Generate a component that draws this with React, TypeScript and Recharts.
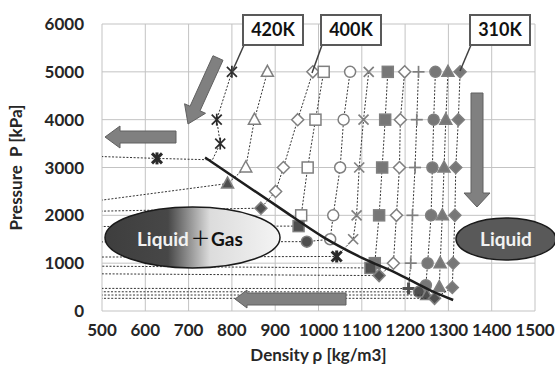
import { ScatterChart, Scatter, XAxis, YAxis, CartesianGrid } from "recharts";

// density [kg/m3] and pressure [kPa] per isotherm; last point is the gas side (off chart to the left)
const rho420 = [800, 765, 773, 755, 627, 100];
const p420 = [5000, 4000, 3500, 3160, 3190, 3350];
const rho410 = [882, 852, 832, 790, 100];
const p410 = [5000, 4000, 3000, 2665, 1840];
const rho400 = [987, 952, 919, 901, 867, 100];
const p400 = [5000, 4000, 3000, 2500, 2150, 2020];
const rho390 = [1012, 993, 975, 960, 954, 100];
const p390 = [5000, 4000, 3000, 2000, 1775, 1760];
const rho380 = [1073, 1058, 1050, 1034, 1027, 973, 100];
const p380 = [5000, 4000, 3000, 2000, 1500, 1450, 1440];
const rho370 = [1116, 1104, 1094, 1088, 1080, 1042, 100];
const p370 = [5000, 4000, 3000, 2000, 1500, 1140, 1120];
const rho360 = [1160, 1154, 1147, 1140, 1130, 1120, 100];
const p360 = [5000, 4000, 3000, 2000, 1000, 900, 960];
const rho350 = [1199, 1189, 1187, 1180, 1173, 1140, 100];
const p350 = [5000, 4000, 3000, 2000, 1000, 740, 800];
const rho340 = [1231, 1227, 1223, 1217, 1213, 1208, 100];
const p340 = [5000, 4000, 3000, 2000, 1000, 470, 474];
const rho330 = [1270, 1266, 1263, 1260, 1252, 1248, 1232, 100];
const p330 = [5000, 4000, 3000, 2000, 1000, 540, 400, 403];
const rho320 = [1299, 1294, 1290, 1286, 1281, 1279, 1250, 100];
const p320 = [5000, 4000, 3000, 2000, 1000, 500, 334, 334];
const rho310 = [1327, 1323, 1317, 1315, 1311, 1309, 1268, 100];
const p310 = [5000, 4000, 3000, 2000, 1000, 490, 265, 265];

// saturation curve
const satRho = [738, 911, 1011, 1103, 1181, 1257, 1311];
const satP = [3210, 2150, 1545, 1100, 787, 438, 230];

const xTicks = [500, 600, 700, 800, 900, 1000, 1100, 1200, 1300, 1400, 1500];
const yTicks = [0, 1000, 2000, 3000, 4000, 5000, 6000];

const series = [
  { name: "420K", rho: rho420, p: p420, mark: "star", sat: 4, skip: 3 },
  { name: "410K", rho: rho410, p: p410, mark: "tri", sat: 3 },
  { name: "400K", rho: rho400, p: p400, mark: "dia", sat: 4 },
  { name: "390K", rho: rho390, p: p390, mark: "sq", sat: 4 },
  { name: "380K", rho: rho380, p: p380, mark: "circ", sat: 5 },
  { name: "370K", rho: rho370, p: p370, mark: "x", sat: 5 },
  { name: "360K", rho: rho360, p: p360, mark: "fsq", sat: 5 },
  { name: "350K", rho: rho350, p: p350, mark: "dia", sat: 5 },
  { name: "340K", rho: rho340, p: p340, mark: "plus", sat: 5 },
  { name: "330K", rho: rho330, p: p330, mark: "fcirc", sat: 6 },
  { name: "320K", rho: rho320, p: p320, mark: "ftri", sat: 6 },
  { name: "310K", rho: rho310, p: p310, mark: "fdia", sat: 6 },
];

const FONT = "Lato, 'Open Sans', sans-serif";
const GRAY = "#7f7f7f";
const DARK = "#4f4f4f";

// plot box (matches chart margins below)
const L = 102, R = 535, T = 24, B = 311;

const drawMark = (kind: string, sat: boolean, cx: number, cy: number) => {
  const fillOpen = sat ? DARK : "#fff";
  const fillSolid = sat ? DARK : "#777";
  switch (kind) {
    case "star":
    case "x": {
      const c = kind === "star" || sat ? "#2b2b2b" : GRAY;
      const w = sat ? 3 : 1.7;
      return (
        <g stroke={c} strokeWidth={w}>
          <line x1={cx - 5} y1={cy - 5} x2={cx + 5} y2={cy + 5} />
          <line x1={cx - 5} y1={cy + 5} x2={cx + 5} y2={cy - 5} />
          {(kind === "star" || sat) && <line x1={cx} y1={cy - 6} x2={cx} y2={cy + 6} />}
        </g>
      );
    }
    case "plus":
      return (
        <g stroke={sat ? DARK : GRAY} strokeWidth={sat ? 3 : 1.7}>
          <line x1={cx - 6} y1={cy} x2={cx + 6} y2={cy} />
          <line x1={cx} y1={cy - 6} x2={cx} y2={cy + 6} />
        </g>
      );
    case "tri":
    case "ftri":
      return (
        <polygon
          points={`${cx},${cy - 6.5} ${cx + 6},${cy + 4.5} ${cx - 6},${cy + 4.5}`}
          fill={kind === "tri" ? fillOpen : fillSolid}
          stroke={GRAY}
          strokeWidth={1.5}
        />
      );
    case "dia":
    case "fdia":
      return (
        <polygon
          points={`${cx},${cy - 6} ${cx + 6},${cy} ${cx},${cy + 6} ${cx - 6},${cy}`}
          fill={kind === "dia" ? fillOpen : fillSolid}
          stroke={GRAY}
          strokeWidth={1.5}
        />
      );
    case "sq":
    case "fsq":
      return (
        <rect x={cx - 5.5} y={cy - 5.5} width={11} height={11}
          fill={kind === "sq" ? fillOpen : fillSolid} stroke={GRAY} strokeWidth={1.5} />
      );
    default:
      return (
        <circle cx={cx} cy={cy} r={5.5}
          fill={kind === "circ" ? fillOpen : fillSolid} stroke={GRAY} strokeWidth={1.5} />
      );
  }
};

const arrow = (x1: number, y1: number, x2: number, y2: number, sw: number, hw: number, hl: number) => {
  const len = Math.hypot(x2 - x1, y2 - y1);
  const ux = (x2 - x1) / len, uy = (y2 - y1) / len;
  const nx = -uy, ny = ux;
  const bx = x2 - ux * hl, by = y2 - uy * hl;
  const pts = [
    [x1 + (nx * sw) / 2, y1 + (ny * sw) / 2],
    [bx + (nx * sw) / 2, by + (ny * sw) / 2],
    [bx + (nx * hw) / 2, by + (ny * hw) / 2],
    [x2, y2],
    [bx - (nx * hw) / 2, by - (ny * hw) / 2],
    [bx - (nx * sw) / 2, by - (ny * sw) / 2],
    [x1 - (nx * sw) / 2, y1 - (ny * sw) / 2],
  ];
  return <polygon points={pts.map((q) => q.join(",")).join(" ")} fill="#808080" stroke="#606060" strokeWidth={1} />;
};

const Callout = ({ x, label, tx, ty }: { x: number; label: string; tx: number; ty: number }) => (
  <g>
    <line x1={x + 1} y1={45} x2={tx} y2={ty} stroke="#404040" strokeWidth={1.5} />
    <rect x={x} y={15} width={60} height={30} fill="#fff" stroke="#595959" strokeWidth={2} />
    <text x={x + 30} y={36} textAnchor="middle" fontSize={18} fontWeight={700} fill="#111" fontFamily={FONT}>
      {label}
    </text>
  </g>
);

const Overlay = () => (
  <svg width={555} height={370} style={{ position: "absolute", left: 0, top: 0, pointerEvents: "none" }}>
    <defs>
      <linearGradient id="lg" x1="0" y1="0" x2="1" y2="0">
        <stop offset="0" stopColor="#3e3e3e" />
        <stop offset="0.36" stopColor="#474747" />
        <stop offset="0.6" stopColor="#dcdcdc" />
        <stop offset="1" stopColor="#f4f4f4" />
      </linearGradient>
    </defs>
    {arrow(218, 58, 188, 124, 11, 23, 17)}
    {arrow(176, 137, 105, 137, 12, 22, 15)}
    {arrow(477, 93, 477, 207, 12, 26, 14)}
    {arrow(346, 299, 235, 299, 12, 18, 12)}

    <ellipse cx={192.5} cy={237.5} rx={87.5} ry={30.5} fill="url(#lg)" stroke="#1a1a1a" strokeWidth={1.5} />
    <text x={137} y={246} fontSize={19} fontWeight={700} fill="#f2f2f2" fontFamily={FONT}>Liquid</text>
    <text x={200.5} y={246} textAnchor="middle" fontSize={20} fill="#111" fontFamily="'Noto Sans CJK JP', sans-serif">＋</text>
    <text x={211} y={246} fontSize={19} fontWeight={700} fill="#111" fontFamily={FONT}>Gas</text>

    <ellipse cx={506} cy={239} rx={50} ry={21} fill="#595959" stroke="#1a1a1a" strokeWidth={1.5} />
    <text x={506} y={246} textAnchor="middle" fontSize={19} fontWeight={700} fill="#f2f2f2" fontFamily={FONT}>Liquid</text>

    <Callout x={243} label="420K" tx={232} ty={72} />
    <Callout x={321} label="400K" tx={312} ty={73} />
    <Callout x={470} label="310K" tx={460} ty={71} />

    <text x={(L + R) / 2} y={361} textAnchor="middle" fontSize={17} fontWeight={700} fill="#262626" fontFamily={FONT}>
      Density ρ [kg/m3]
    </text>
    <text
      transform={`translate(22, ${(T + B) / 2}) rotate(-90)`}
      textAnchor="middle"
      fontSize={17}
      fontWeight={700}
      fill="#262626"
      fontFamily={FONT}
      style={{ whiteSpace: "pre" }}
    >
      {"Pressure  P [kPa]"}
    </text>
  </svg>
);

export default function App() {
  const satData = satRho.map((x, i) => ({ x, y: satP[i] }));
  return (
    <div style={{ position: "absolute", left: 0, top: 0, width: 555, height: 370, background: "#fff" }}>
      <ScatterChart width={555} height={370} margin={{ top: T, right: 555 - R, bottom: 19, left: 22 }}>
        <CartesianGrid stroke="#c3c3c3" strokeWidth={1} />
        <XAxis
          type="number"
          dataKey="x"
          domain={[500, 1500]}
          ticks={xTicks}
          allowDataOverflow
          height={40}
          axisLine={false}
          tickLine={false}
          tickSize={0}
          tickMargin={13}
          tick={{ fill: "#262626", fontSize: 17, fontWeight: 700, fontFamily: FONT }}
        />
        <YAxis
          type="number"
          dataKey="y"
          domain={[0, 6000]}
          ticks={yTicks}
          width={80}
          axisLine={false}
          tickLine={false}
          tickSize={0}
          tickMargin={18}
          tick={{ fill: "#262626", fontSize: 17, fontWeight: 700, fontFamily: FONT }}
        />
        {series.map((s) => (
          <Scatter
            key={s.name}
            name={s.name}
            data={s.rho.map((x, i) => ({ x, y: s.p[i], i }))}
            isAnimationActive={false}
            line={{ stroke: "#333", strokeWidth: 1, strokeDasharray: "2 1.6" }}
            shape={(pr: any) => {
              const i = pr.payload?.i;
              if (pr.cx < L - 1 || i === s.skip) return <g />;
              return drawMark(s.mark, i === s.sat, pr.cx, pr.cy);
            }}
          />
        ))}
        <Scatter
          name="saturation"
          data={satData}
          isAnimationActive={false}
          lineJointType="monotoneX"
          line={{ stroke: "#1e1e1e", strokeWidth: 2.5 }}
          shape={() => <g />}
        />
      </ScatterChart>
      <Overlay />
    </div>
  );
}
